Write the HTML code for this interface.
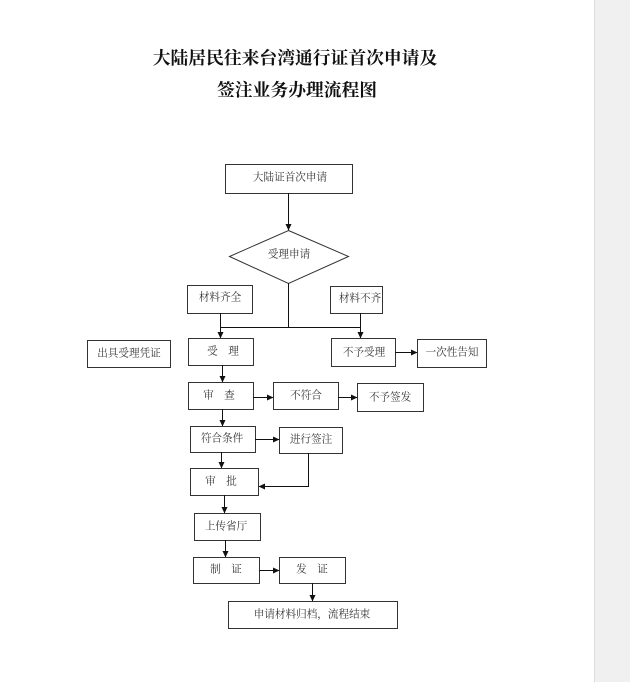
<!DOCTYPE html>
<html><head><meta charset="utf-8">
<style>
html,body{margin:0;padding:0;background:#fff;}
body{width:630px;height:682px;position:relative;overflow:hidden;}
.side{position:absolute;left:594px;top:0;width:36px;height:682px;background:#f0f0f0;border-left:1px solid #dcdcdc;box-sizing:border-box;}
svg{position:absolute;left:0;top:0;}
.t{font-family:"Liberation Serif","Noto Serif CJK SC",serif;font-size:10.6px;fill:#333;}
.h{font-family:"Liberation Serif","Noto Serif CJK SC",serif;font-size:17.8px;font-weight:bold;fill:#111;}
</style></head><body>
<div class="side"></div>
<svg width="630" height="682" viewBox="0 0 630 682">
<defs>
<marker id="a" markerWidth="7" markerHeight="7" refX="6" refY="3.5" orient="auto" markerUnits="userSpaceOnUse">
<path d="M0,0.5 L6.5,3.5 L0,6.5 Z" fill="#111"/>
</marker>
</defs>
<text class="h" x="295" y="58" text-anchor="middle" dominant-baseline="central">大陆居民往来台湾通行证首次申请及</text>
<text class="h" x="297" y="90" text-anchor="middle" dominant-baseline="central">签注业务办理流程图</text>

<g fill="none" stroke="#333" stroke-width="1">
<rect x="225.5" y="164.5" width="127" height="29"/>
<polygon points="288.5,230.5 348.5,256.5 288.5,283.5 229.5,256.5"/>
<rect x="187.5" y="285.5" width="65" height="28"/>
<rect x="330.5" y="286.5" width="52" height="27"/>
<rect x="87.5" y="340.5" width="83" height="27"/>
<rect x="188.5" y="338.5" width="65" height="27"/>
<rect x="331.5" y="338.5" width="64" height="28"/>
<rect x="417.5" y="339.5" width="69" height="28"/>
<rect x="188.5" y="382.5" width="65" height="27"/>
<rect x="273.5" y="382.5" width="65" height="27"/>
<rect x="357.5" y="383.5" width="66" height="28"/>
<rect x="190.5" y="426.5" width="65" height="26"/>
<rect x="279.5" y="427.5" width="63" height="26"/>
<rect x="190.5" y="468.5" width="68" height="27"/>
<rect x="194.5" y="513.5" width="66" height="27"/>
<rect x="193.5" y="557.5" width="66" height="26"/>
<rect x="279.5" y="557.5" width="66" height="26"/>
<rect x="228.5" y="601.5" width="169" height="27"/>
</g>

<g fill="none" stroke="#111" stroke-width="1">
<line x1="288.5" y1="193" x2="288.5" y2="230" marker-end="url(#a)"/>
<line x1="288.5" y1="283" x2="288.5" y2="327.5"/>
<line x1="220.5" y1="313" x2="220.5" y2="327.5"/>
<line x1="360.5" y1="313" x2="360.5" y2="327.5"/>
<line x1="220" y1="327.5" x2="361" y2="327.5"/>
<line x1="220.5" y1="327" x2="220.5" y2="338" marker-end="url(#a)"/>
<line x1="360.5" y1="327" x2="360.5" y2="338" marker-end="url(#a)"/>
<line x1="395" y1="352.5" x2="417" y2="352.5" marker-end="url(#a)"/>
<line x1="222.5" y1="365" x2="222.5" y2="382" marker-end="url(#a)"/>
<line x1="253" y1="397.5" x2="273" y2="397.5" marker-end="url(#a)"/>
<line x1="338" y1="397.5" x2="357" y2="397.5" marker-end="url(#a)"/>
<line x1="222.5" y1="409" x2="222.5" y2="426" marker-end="url(#a)"/>
<line x1="255" y1="439.5" x2="279" y2="439.5" marker-end="url(#a)"/>
<line x1="221.5" y1="452" x2="221.5" y2="468" marker-end="url(#a)"/>
<polyline points="308.5,453 308.5,486.5 259,486.5" marker-end="url(#a)"/>
<line x1="224.5" y1="495" x2="224.5" y2="513" marker-end="url(#a)"/>
<line x1="225.5" y1="540" x2="225.5" y2="557" marker-end="url(#a)"/>
<line x1="259" y1="570.5" x2="279" y2="570.5" marker-end="url(#a)"/>
<line x1="312.5" y1="583" x2="312.5" y2="601" marker-end="url(#a)"/>
</g>

<g text-anchor="middle" dominant-baseline="central">
<text class="t" x="290" y="178">大陆证首次申请</text>
<text class="t" x="289" y="255">受理申请</text>
<text class="t" x="220" y="298">材料齐全</text>
<text class="t" x="360" y="299">材料不齐</text>
<text class="t" x="129" y="354">出具受理凭证</text>
<text class="t" x="223" y="352" xml:space="preserve">受    理</text>
<text class="t" x="364" y="353">不予受理</text>
<text class="t" x="452" y="353">一次性告知</text>
<text class="t" x="219" y="396" xml:space="preserve">审    查</text>
<text class="t" x="306" y="396">不符合</text>
<text class="t" x="390" y="398">不予签发</text>
<text class="t" x="222" y="439">符合条件</text>
<text class="t" x="311" y="440">进行签注</text>
<text class="t" x="221" y="482" xml:space="preserve">审    批</text>
<text class="t" x="226" y="527">上传省厅</text>
<text class="t" x="226" y="570" xml:space="preserve">制    证</text>
<text class="t" x="312" y="570" xml:space="preserve">发    证</text>
<text class="t" x="312" y="615">申请材料归档，流程结束</text>
</g>
</svg>
</body></html>
